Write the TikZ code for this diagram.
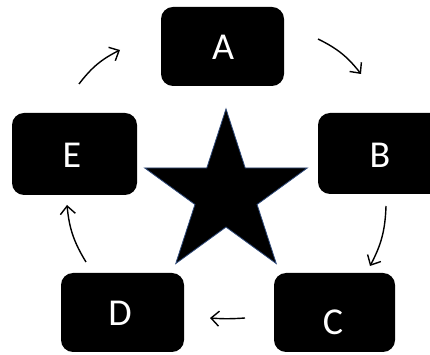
\documentclass[tikz,border=0pt]{standalone}
\usepackage{fontspec}
\setmainfont{Carlito}
\usetikzlibrary{shapes.geometric,arrows.meta}
\definecolor{staredge}{HTML}{2F4A7A}
\tikzset{
  box/.style={fill=black, rounded corners=12pt, inner sep=0pt},
  lbl/.style={text=white, font=\fontsize{38}{38}\selectfont, inner sep=0pt},
  flow/.style={line width=1.4pt, -{Straight Barb[length=8pt,width=15pt,line width=1.4pt]}, bend left=13}
}
\begin{document}
\begin{tikzpicture}[x=1pt,y=1pt]
\useasboundingbox (0,0) rectangle (430,355);
% five rounded boxes
\node[box, minimum width=123pt, minimum height=79pt] (A) at (222.5,308.5) {};
\node[box, minimum width=125pt, minimum height=81pt] (B) at (380.5,201.5) {};
\node[box, minimum width=121pt, minimum height=79pt] (C) at (334.5,42.5) {};
\node[box, minimum width=123pt, minimum height=79pt] (D) at (122.5,42.5) {};
\node[box, minimum width=125pt, minimum height=82pt] (E) at (74.5,201) {};
% letters
\node[lbl] (tA) at (223,308) {A};
\node[lbl] (tB) at (380,200) {B};
\node[lbl] (tC) at (333,33) {C};
\node[lbl] (tD) at (120,42) {D};
\node[lbl] (tE) at (72,200) {E};
% central star
\node[star, star points=5, star point ratio=2.618, minimum size=171pt, inner sep=0pt,
      fill=black, draw=staredge, line width=0.8pt] (S) at (226,160.6) {};
% arrow end points
\coordinate (ea1) at (79,271);  \coordinate (ea2) at (120,305);
\coordinate (ab1) at (318,316); \coordinate (ab2) at (361,281);
\coordinate (bc1) at (386,149); \coordinate (bc2) at (370,89);
\coordinate (cd1) at (245,37);  \coordinate (cd2) at (210,37);
\coordinate (de1) at (86,93);   \coordinate (de2) at (67,150);
% clockwise arrows
\draw[flow] (ea1) to (ea2);
\draw[flow] (ab1) to (ab2);
\draw[flow] (bc1) to (bc2);
\draw[flow, bend left=4] (cd1) to (cd2);
\draw[flow] (de1) to (de2);
\end{tikzpicture}
\end{document}
